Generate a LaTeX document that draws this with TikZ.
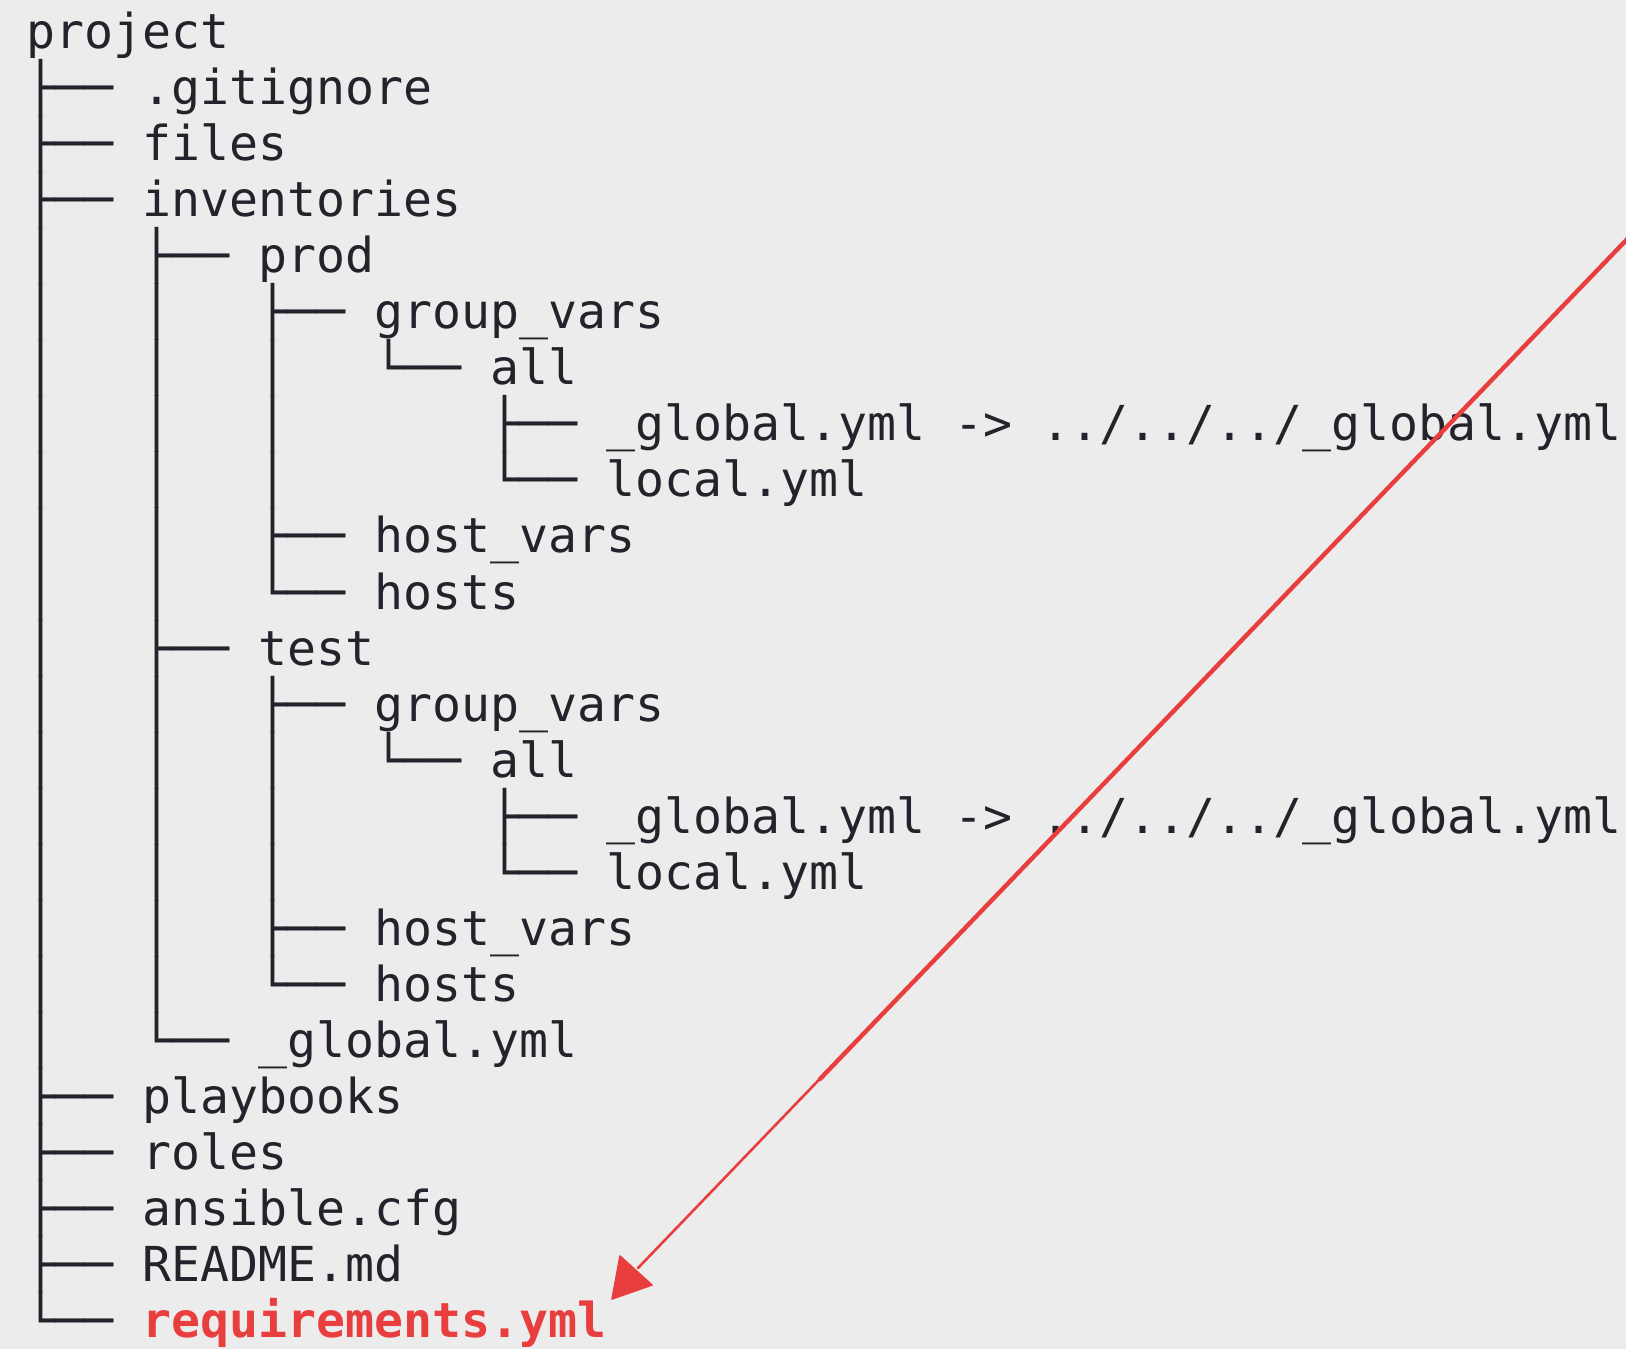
\documentclass[tikz,border=0pt]{standalone}
\usepackage{fontspec}
\newfontfamily\treefont{DejaVu Sans Mono}
\definecolor{bg}{RGB}{236,236,236}
\definecolor{ink}{RGB}{36,35,43}
\definecolor{redink}{RGB}{232,62,62}
\begin{document}
\begin{tikzpicture}[x=0.5pt,y=-0.5pt,
  row/.style={anchor=base west, inner sep=0pt, outer sep=0pt, text=ink,
    font=\treefont\fontsize{24.085pt}{28pt}\selectfont},
  hot/.style={row, text=redink, font=\treefont\bfseries\fontsize{24.085pt}{28pt}\selectfont},
  arrowline/.style={draw=redink, line width=1.4pt, line cap=round},
  arrowhead/.style={fill=redink, draw=redink, line width=0.8pt, line join=round}]
\fill[bg] (0,0) rectangle (1626,1349);
\useasboundingbox (0,0) rectangle (1626,1349);
% names
\node[row] (n0)  at (26.5,48.5)    {project};
\node[row] (n1)  at (142.5,104.55) {.gitignore};
\node[row] (n2)  at (142.5,160.6)  {files};
\node[row] (n3)  at (142.5,216.65) {inventories};
\node[row] (n4)  at (258.5,272.7)  {prod};
\node[row] (n5)  at (374.5,328.75) {group\_vars};
\node[row] (n6)  at (490.5,384.8)  {all};
\node[row] (n7)  at (606.5,440.85) {\_global.yml~->~../../../\_global.yml};
\node[row] (n8)  at (606.5,496.9)  {local.yml};
\node[row] (n9)  at (374.5,552.95) {host\_vars};
\node[row] (n10) at (374.5,609.0)  {hosts};
\node[row] (n11) at (258.5,665.05) {test};
\node[row] (n12) at (374.5,721.1)  {group\_vars};
\node[row] (n13) at (490.5,777.15) {all};
\node[row] (n14) at (606.5,833.2)  {\_global.yml~->~../../../\_global.yml};
\node[row] (n15) at (606.5,889.25) {local.yml};
\node[row] (n16) at (374.5,945.3)  {host\_vars};
\node[row] (n17) at (374.5,1001.35){hosts};
\node[row] (n18) at (258.5,1057.4) {\_global.yml};
\node[row] (n19) at (142.5,1113.45){playbooks};
\node[row] (n20) at (142.5,1169.5) {roles};
\node[row] (n21) at (142.5,1225.55){ansible.cfg};
\node[row] (n22) at (142.5,1281.6) {README.md};
\node[hot] (n23) at (142.5,1337.65){requirements.yml};
% tree prefixes
\node[row] (p1)  at (26.5,104.55) {├──};
\node[row] (p2)  at (26.5,160.6)  {├──};
\node[row] (p3)  at (26.5,216.65) {├──};
\node[row] (p4)  at (26.5,272.7)  {│~~~├──};
\node[row] (p5)  at (26.5,328.75) {│~~~│~~~├──};
\node[row] (p6)  at (26.5,384.8)  {│~~~│~~~│~~~└──};
\node[row] (p7)  at (26.5,440.85) {│~~~│~~~│~~~~~~~├──};
\node[row] (p8)  at (26.5,496.9)  {│~~~│~~~│~~~~~~~└──};
\node[row] (p9)  at (26.5,552.95) {│~~~│~~~├──};
\node[row] (p10) at (26.5,609.0)  {│~~~│~~~└──};
\node[row] (p11) at (26.5,665.05) {│~~~├──};
\node[row] (p12) at (26.5,721.1)  {│~~~│~~~├──};
\node[row] (p13) at (26.5,777.15) {│~~~│~~~│~~~└──};
\node[row] (p14) at (26.5,833.2)  {│~~~│~~~│~~~~~~~├──};
\node[row] (p15) at (26.5,889.25) {│~~~│~~~│~~~~~~~└──};
\node[row] (p16) at (26.5,945.3)  {│~~~│~~~├──};
\node[row] (p17) at (26.5,1001.35){│~~~│~~~└──};
\node[row] (p18) at (26.5,1057.4) {│~~~└──};
\node[row] (p19) at (26.5,1113.45){├──};
\node[row] (p20) at (26.5,1169.5) {├──};
\node[row] (p21) at (26.5,1225.55){├──};
\node[row] (p22) at (26.5,1281.6) {├──};
\node[row] (p23) at (26.5,1337.65){└──};
% red arrow (hand-drawn look: overlapping strokes, thicker at the top)
\coordinate (as) at (1634,232);
\coordinate (ae) at (638,1268);
\coordinate (am) at (820,1079);
\coordinate (ha) at (620,1256);
\coordinate (hb) at (652,1285);
\coordinate (hc) at (612,1299);
\draw[arrowline, line width=1.3pt] (as) -- (ae);
\draw[arrowline, line width=2.2pt] (as) -- (am);
\filldraw[arrowhead] (ha) -- (hb) -- (hc) -- cycle;
\end{tikzpicture}
\end{document}
